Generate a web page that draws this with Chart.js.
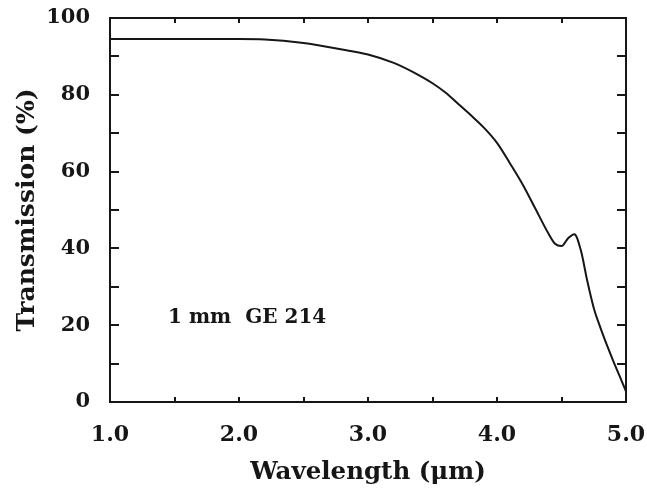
<!DOCTYPE html>
<html>
<head>
<meta charset="utf-8">
<script src="https://cdn.jsdelivr.net/npm/chart.js"></script>
<style>
    html, body { margin: 0; padding: 0; background: #fff; }
    #wrap { width: 647px; height: 491px; }
</style>
</head>
<body>
<div id="wrap"><canvas id="transmission-chart"></canvas></div>
<script>
// values
const wavelengths = [1.0, 1.5, 2.0, 2.2, 2.5, 2.8, 3.0, 3.2, 3.4, 3.5, 3.6, 3.7, 3.8, 3.9, 4.0,
    4.1, 4.2, 4.3, 4.4, 4.45, 4.5, 4.55, 4.6, 4.65, 4.7, 4.75, 4.8, 4.85, 4.9, 4.95, 5.0];
const transmission = [94.5, 94.5, 94.5, 94.4, 93.5, 91.8, 90.5, 88.3, 85.0, 83.0, 80.6, 77.6, 74.6, 71.4, 67.5,
    62.2, 56.6, 50.2, 43.8, 41.2, 40.6, 42.6, 43.7, 39.5, 31.5, 24.5, 19.5, 15.0, 10.8, 6.8, 2.8];

const xTickValues = [1, 2, 3, 4, 5];
const yTickValues = [0, 20, 40, 60, 80, 100];
const xMarkValues = [1.5, 2, 2.5, 3, 3.5, 4, 4.5];
const yMarkValues = [10, 20, 30, 40, 50, 60, 70, 80, 90];

const annotationText = '1 mm  GE 214';
const annotationAt = { x: 1.45, y: 22 };

const ink = '#161616';
const serif = '"DejaVu Serif", "Liberation Serif", serif';

// frame with inward ticks + the sample label
const framePlugin = {
    id: 'frame',
    afterDatasetsDraw(chart) {
        const { ctx, chartArea, scales } = chart;
        const { left, right, top, bottom } = chartArea;
        ctx.save();
        ctx.strokeStyle = ink;
        ctx.lineWidth = 2;
        ctx.strokeRect(left, top, right - left, bottom - top);

        ctx.beginPath();
        xMarkValues.forEach(v => {
            const px = Math.round(scales.x.getPixelForValue(v));
            ctx.moveTo(px, bottom);
            ctx.lineTo(px, bottom - 5);
            ctx.moveTo(px, top);
            ctx.lineTo(px, top + 5);
        });
        yMarkValues.forEach(v => {
            const py = Math.round(scales.y.getPixelForValue(v));
            ctx.moveTo(left, py);
            ctx.lineTo(left + 9, py);
            ctx.moveTo(right, py);
            ctx.lineTo(right - 9, py);
        });
        ctx.stroke();

        ctx.fillStyle = ink;
        ctx.font = 'bold 20px ' + serif;
        ctx.textBaseline = 'middle';
        ctx.textAlign = 'left';
        ctx.fillText(annotationText,
            scales.x.getPixelForValue(annotationAt.x),
            scales.y.getPixelForValue(annotationAt.y));
        ctx.restore();
    }
};

new Chart(document.getElementById('transmission-chart'), {
    type: 'line',
    data: {
        datasets: [{
            data: wavelengths.map((w, i) => ({ x: w, y: transmission[i] })),
            borderColor: ink,
            borderWidth: 2,
            pointRadius: 0,
            fill: false,
            cubicInterpolationMode: 'monotone'
        }]
    },
    options: {
        responsive: true,
        maintainAspectRatio: false,
        animation: false,
        layout: {
            padding: { top: 18, right: 21, left: 0, bottom: 0 }
        },
        plugins: {
            legend: { display: false },
            tooltip: { enabled: false }
        },
        scales: {
            x: {
                type: 'linear',
                min: 1,
                max: 5,
                afterBuildTicks: scale => {
                    scale.ticks = xTickValues.map(v => ({ value: v }));
                },
                afterFit: scale => {
                    scale.height = 89;
                    scale.paddingLeft = 0;
                    scale.paddingRight = 0;
                },
                grid: { display: false, drawTicks: false },
                border: { display: false },
                ticks: {
                    padding: 20,
                    color: ink,
                    maxRotation: 0,
                    font: { family: serif, size: 22, weight: 'bold' },
                    callback: v => v.toFixed(1)
                },
                title: {
                    display: true,
                    text: 'Wavelength (μm)',
                    color: ink,
                    padding: { top: 0, bottom: 4 },
                    font: { family: serif, size: 24.5, weight: 'bold' }
                }
            },
            y: {
                type: 'linear',
                min: 0,
                max: 100,
                afterBuildTicks: scale => {
                    scale.ticks = yTickValues.map(v => ({ value: v }));
                },
                afterFit: scale => {
                    scale.width = 110;
                    scale.paddingTop = 0;
                    scale.paddingBottom = 0;
                },
                grid: { display: false, drawTicks: false },
                border: { display: false },
                ticks: {
                    padding: 20,
                    color: ink,
                    font: { family: serif, size: 21, weight: 'bold' }
                },
                title: {
                    display: true,
                    text: 'Transmission (%)',
                    color: ink,
                    padding: { top: 12, bottom: 0 },
                    font: { family: serif, size: 25, weight: 'bold' }
                }
            }
        }
    },
    plugins: [framePlugin]
});
</script>
</body>
</html>
